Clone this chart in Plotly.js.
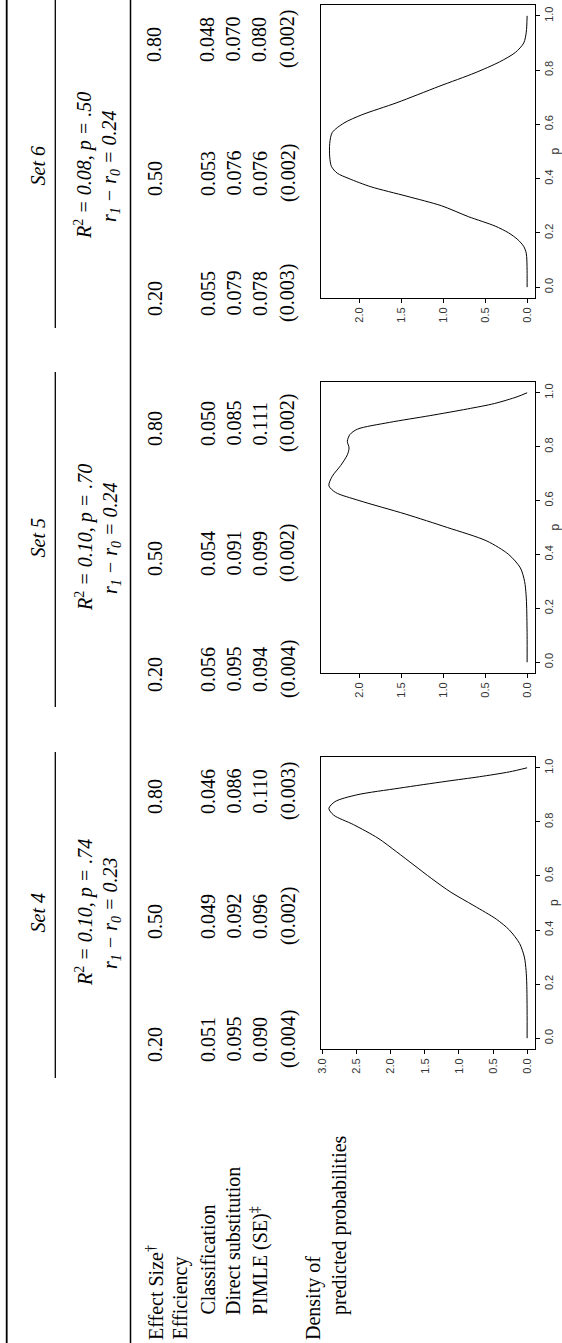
<!DOCTYPE html>
<html>
<head>
<meta charset="utf-8">
<script src="https://cdn.plot.ly/plotly-3.0.1.min.js"></script>
<style>html,body{margin:0;padding:0;background:#fff;}#chart{width:562px;height:1343px;}</style>
</head>
<body>
<div id="chart"></div>
<script>
// ---------------- DATA ----------------
const setNames = ['Set 4', 'Set 5', 'Set 6'];
const r2Lines = ['<i>R</i><sup>2</sup><i> = 0.10, p = .74</i>',
                 '<i>R</i><sup>2</sup><i> = 0.10, p = .70</i>',
                 '<i>R</i><sup>2</sup><i> = 0.08, p = .50</i>'];
const rDiffLines = ['<i>r<sub>1</sub> − r<sub>0</sub> = 0.23</i>',
                    '<i>r<sub>1</sub> − r<sub>0</sub> = 0.24</i>',
                    '<i>r<sub>1</sub> − r<sub>0</sub> = 0.24</i>'];
const rowLabels = ['Effect Size<sup>†</sup>', 'Efficiency', 'Classification', 'Direct substitution',
                   'PIMLE (SE)<sup>‡</sup>', 'Density of', 'predicted probabilities'];
// columns: Set 4 (0.20, 0.50, 0.80), Set 5 (...), Set 6 (...)
const effectSize     = ['0.20','0.50','0.80', '0.20','0.50','0.80', '0.20','0.50','0.80'];
const classification = ['0.051','0.049','0.046', '0.056','0.054','0.050', '0.055','0.053','0.048'];
const directSubst    = ['0.095','0.092','0.086', '0.095','0.091','0.085', '0.079','0.076','0.070'];
const pimle          = ['0.090','0.096','0.110', '0.094','0.099','0.111', '0.078','0.076','0.080'];
const pimleSE        = ['(0.004)','(0.002)','(0.003)', '(0.004)','(0.002)','(0.002)', '(0.003)','(0.002)','(0.002)'];

// density of predicted probabilities (p vs density)
const p4 = [0, 0.10, 0.20, 0.25, 0.30, 0.35, 0.40, 0.44, 0.49, 0.54, 0.59, 0.64, 0.69, 0.74, 0.79, 0.825, 0.85, 0.875, 0.90, 0.925, 0.95, 0.967, 0.985, 1.0];
const d4 = [0, 0, 0.005, 0.015, 0.04, 0.11, 0.26, 0.45, 0.78, 1.12, 1.40, 1.66, 1.92, 2.19, 2.55, 2.84, 2.91, 2.82, 2.50, 1.87, 1.19, 0.70, 0.26, 0];
const p5 = [0, 0.10, 0.20, 0.25, 0.30, 0.35, 0.40, 0.45, 0.50, 0.55, 0.60, 0.63, 0.655, 0.69, 0.73, 0.77, 0.795, 0.82, 0.845, 0.865, 0.89, 0.915, 0.94, 0.96, 0.985, 1.0];
const d5 = [0, 0, 0.005, 0.012, 0.03, 0.08, 0.22, 0.48, 0.95, 1.45, 2.00, 2.28, 2.36, 2.32, 2.22, 2.14, 2.12, 2.14, 2.11, 2.02, 1.64, 1.16, 0.71, 0.39, 0.12, 0];
const p6 = [0, 0.05, 0.10, 0.125, 0.15, 0.175, 0.20, 0.225, 0.26, 0.30, 0.335, 0.37, 0.40, 0.42, 0.445, 0.48, 0.53, 0.57, 0.605, 0.635, 0.68, 0.74, 0.79, 0.83, 0.865, 0.90, 0.94, 1.0];
const d6 = [0, 0, 0.003, 0.01, 0.04, 0.11, 0.22, 0.38, 0.70, 1.02, 1.43, 1.86, 2.12, 2.26, 2.33, 2.35, 2.35, 2.32, 2.18, 1.97, 1.55, 1.05, 0.62, 0.33, 0.14, 0.04, 0.01, 0];

// ---------------- LAYOUT HELPERS ----------------
const W = 562, H = 1343;
const X = px => px / W;
const Y = py => 1 - py / H;
const SERIF = 'Liberation Serif, Times New Roman, serif';
const SANS = 'Liberation Sans, Arial, sans-serif';
const FS = 20;

const annotations = [];
function addText(text, cx, py, yanchor, extra) {
  annotations.push(Object.assign({
    text: text, xref: 'paper', yref: 'paper', x: X(cx), y: Y(py),
    xanchor: 'center', yanchor: yanchor, showarrow: false, textangle: -90,
    font: {family: SERIF, size: FS, color: '#000'}, borderpad: 0
  }, extra || {}));
}

// set headers (order Set 4, Set 5, Set 6 along the page from bottom to top)
const setCenters = [913, 538, 166];
setNames.forEach((s, i) => {
  addText('<i>' + s + '</i>', 37.5, setCenters[i], 'middle');
  addText(r2Lines[i], 84, setCenters[i], 'middle');
  addText(rDiffLines[i], 111, setCenters[i], 'middle');
});

// row labels
const rowX = [154.5, 180, 207.5, 233, 259.5, 313, 339];
const rowStart = [1341, 1341, 1316, 1316, 1316, 1341, 1316];
rowLabels.forEach((t, i) => addText(t, rowX[i], rowStart[i], 'bottom'));

// table cells
const colStart = [1063, 940, 815, 693, 577, 447, 317, 197, 63];
const rows = [[effectSize, 154.5, 0], [classification, 207.5, 0], [directSubst, 233, 0], [pimle, 259.5, 0], [pimleSE, 288, 6]];
rows.forEach(([vals, cx, shift]) => {
  vals.forEach((v, j) => addText(v, cx, colStart[j] + shift, 'bottom'));
});

// p axis labels near the right edge
const boxes = [[757, 1049], [382, 673], [5, 298]];
boxes.forEach(b => annotations.push({
  text: 'p', xref: 'paper', yref: 'paper', x: X(554), y: Y((b[0] + b[1]) / 2),
  xanchor: 'center', yanchor: 'middle', showarrow: false, textangle: -90,
  font: {family: SANS, size: 12, color: '#333'}
}));

// rules
const shapes = [];
function vline(x, y0, y1, w) {
  shapes.push({type: 'line', xref: 'paper', yref: 'paper', x0: X(x), x1: X(x), y0: Y(y0), y1: Y(y1),
               line: {color: '#000', width: w}});
}
vline(6.7, 0, H, 1.8);
vline(130.5, 0, H, 1.5);
vline(55.3, 0, 328, 1.3);
vline(55.3, 372, 707, 1.3);
vline(55.3, 752, 1078, 1.3);

// ---------------- TRACES & AXES ----------------
const curves = [[p4, d4], [p5, d5], [p6, d6]];
const xRanges = [[3.026, -0.116], [2.454, -0.094], [2.454, -0.094]];
const xTicks = [[0, 0.5, 1, 1.5, 2, 2.5, 3], [0, 0.5, 1, 1.5, 2], [0, 0.5, 1, 1.5, 2]];
const traces = [];
const layout = {
  width: W, height: H, margin: {l: 0, r: 0, t: 0, b: 0},
  paper_bgcolor: '#fff', plot_bgcolor: '#fff', showlegend: false,
  annotations: annotations, shapes: shapes
};
curves.forEach(([p, d], i) => {
  const n = i === 0 ? '' : String(i + 1);
  traces.push({
    type: 'scatter', mode: 'lines', x: d, y: p,
    xaxis: 'x' + n, yaxis: 'y' + n,
    line: {color: '#000', width: 1, shape: 'spline', smoothing: 0.8},
    hoverinfo: 'skip'
  });
  const tickCommon = {
    showgrid: false, zeroline: false, showline: true, mirror: true,
    linecolor: '#000', linewidth: 1, ticks: 'outside', ticklen: 4, tickwidth: 1, tickcolor: '#000',
    tickangle: -90, tickfont: {family: SANS, size: 11, color: '#333'}, tickformat: '.1f',
    fixedrange: true
  };
  layout['xaxis' + n] = Object.assign({}, tickCommon, {
    domain: [X(321), X(535)], range: xRanges[i], tickvals: xTicks[i],
    anchor: 'y' + n
  });
  layout['yaxis' + n] = Object.assign({}, tickCommon, {
    domain: [Y(boxes[i][1]), Y(boxes[i][0])], range: [-0.04, 1.04],
    tickvals: [0, 0.2, 0.4, 0.6, 0.8, 1.0], side: 'right', anchor: 'x' + n
  });
});

Plotly.newPlot('chart', traces, layout, {displayModeBar: false, staticPlot: true});
</script>
</body>
</html>
